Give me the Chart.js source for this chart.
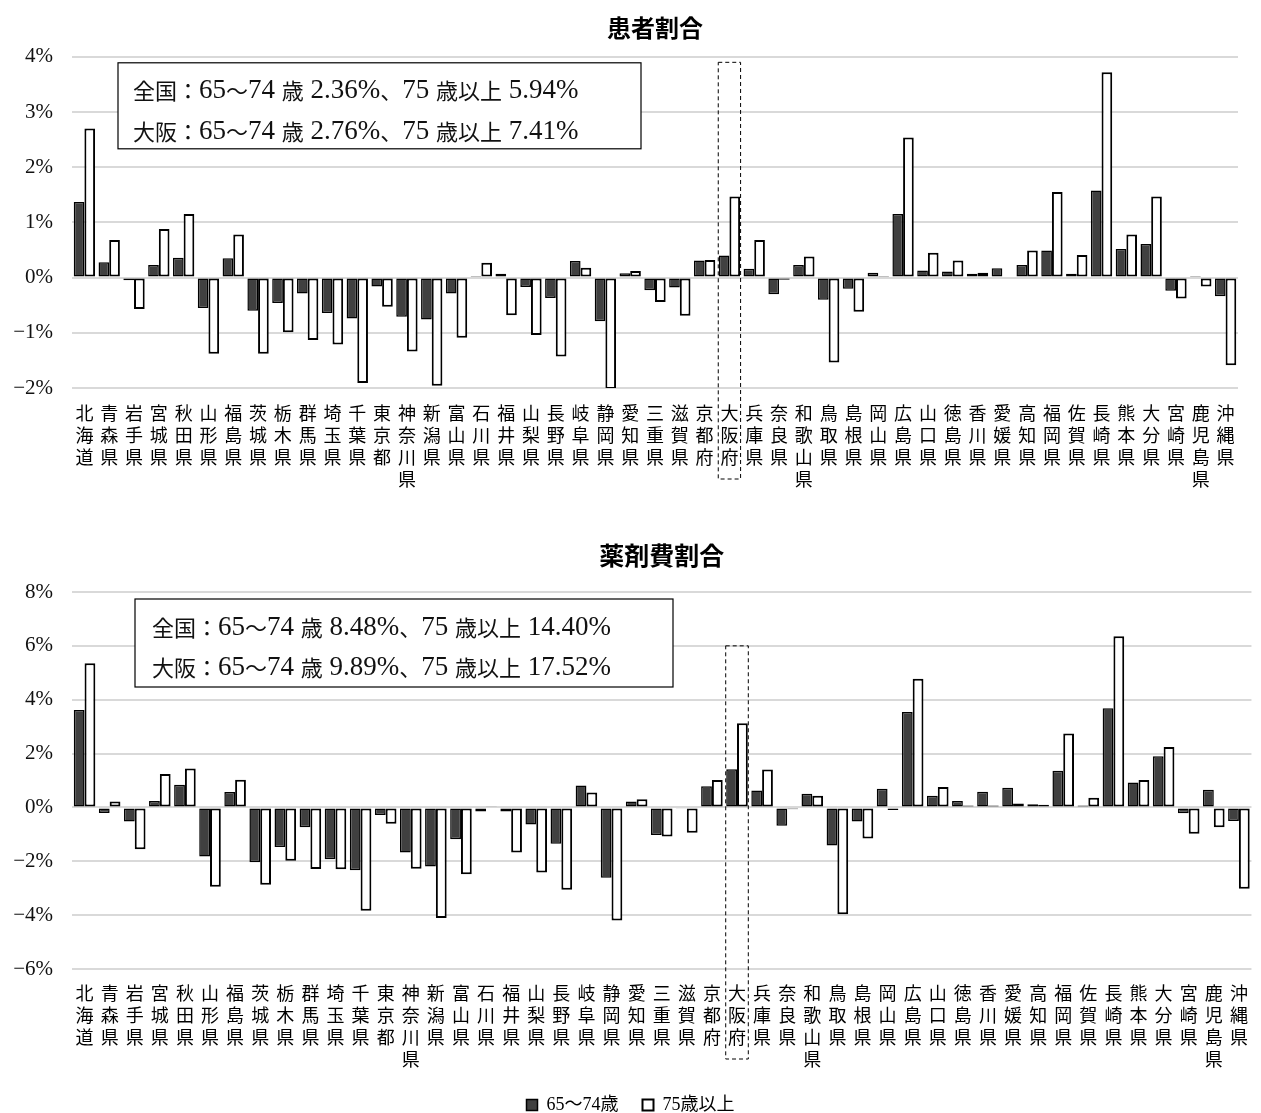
<!DOCTYPE html>
<html>
<head>
<meta charset="utf-8">
<script src="https://cdn.jsdelivr.net/npm/chart.js@4.4.1/dist/chart.umd.min.js"></script>
<style>
html, body { margin: 0; background: #fff; overflow: hidden; }
#wrap { position: relative; width: 1261px; height: 1113px; overflow: hidden; }
canvas { position: absolute; left: 0; }
#patientChart { top: 0; }
#drugChart { top: 530px; }
</style>
</head>
<body>
<div id="wrap">
  <canvas id="patientChart" width="1261" height="500"></canvas>
  <canvas id="drugChart" width="1261" height="594"></canvas>
</div>
<script>
const prefectures = ['北海道', '青森県', '岩手県', '宮城県', '秋田県', '山形県', '福島県', '茨城県', '栃木県', '群馬県',
    '埼玉県', '千葉県', '東京都', '神奈川県', '新潟県', '富山県', '石川県', '福井県', '山梨県', '長野県',
    '岐阜県', '静岡県', '愛知県', '三重県', '滋賀県', '京都府', '大阪府', '兵庫県', '奈良県', '和歌山県',
    '鳥取県', '島根県', '岡山県', '広島県', '山口県', '徳島県', '香川県', '愛媛県', '高知県', '福岡県',
    '佐賀県', '長崎県', '熊本県', '大分県', '宮崎県', '鹿児島県', '沖縄県'];

const seriesNames = ['65～74歳', '75歳以上'];

// 患者割合 (%)
const patientYoung = [1.37, 0.28, -0.05, 0.23, 0.36, -0.55, 0.35, -0.60, -0.46, -0.29,
    -0.64, -0.74, -0.16, -0.71, -0.76, -0.29, 0.01, 0.07, -0.17, -0.37,
    0.30, -0.79, 0.08, -0.23, -0.18, 0.31, 0.40, 0.16, -0.30, 0.23,
    -0.40, -0.20, 0.09, 1.15, 0.13, 0.11, 0.07, 0.17, 0.23, 0.49,
    0.07, 1.58, 0.52, 0.61, -0.24, 0.03, -0.34];
const patientOld = [2.70, 0.68, -0.57, 0.88, 1.15, -1.38, 0.78, -1.38, -0.99, -1.13,
    -1.21, -1.91, -0.53, -1.34, -1.96, -1.09, 0.27, -0.68, -1.04, -1.43,
    0.18, -2.02, 0.12, -0.44, -0.69, 0.32, 1.47, 0.68, -0.04, 0.38,
    -1.54, -0.62, 0.01, 2.54, 0.45, 0.31, 0.09, 0.02, 0.49, 1.55,
    0.41, 3.72, 0.78, 1.47, -0.38, -0.16, -1.59];

// 薬剤費割合 (%)
const drugYoung = [3.62, -0.21, -0.52, 0.24, 0.84, -1.82, 0.57, -2.04, -1.47, -0.74,
    -1.92, -2.33, -0.28, -1.67, -2.19, -1.18, -0.15, -0.15, -0.63, -1.35,
    0.81, -2.61, 0.22, -1.02, -0.05, 0.79, 1.42, 0.63, -0.68, 0.51,
    -1.41, -0.52, 0.69, 3.54, 0.43, 0.24, 0.58, 0.73, 0.12, 1.36,
    0.07, 3.68, 0.93, 1.90, -0.22, 0.66, -0.50];
const drugOld = [5.35, 0.22, -1.55, 1.24, 1.45, -2.95, 1.03, -2.87, -1.98, -2.29,
    -2.30, -3.84, -0.61, -2.28, -4.11, -2.48, 0.04, -1.67, -2.42, -3.06,
    0.55, -4.20, 0.30, -1.08, -0.94, 1.02, 3.13, 1.41, -0.07, 0.43,
    -3.97, -1.15, -0.10, 4.78, 0.76, 0.07, 0.07, 0.15, 0.10, 2.75,
    0.36, 6.36, 1.02, 2.24, -0.98, -0.74, -3.02];

const patientTicks = [-2, 4, 1];   // min, max, step
const drugTicks = [-6, 8, 2];

const patientNotes = ['全国：65～74 歳 2.36%、75 歳以上 5.94%', '大阪：65～74 歳 2.76%、75 歳以上 7.41%'];
const drugNotes = ['全国：65～74 歳 8.48%、75 歳以上 14.40%', '大阪：65～74 歳 9.89%、75 歳以上 17.52%'];

const osakaIndex = prefectures.indexOf('大阪府');
const serif = '"Liberation Serif", "Noto Sans CJK JP", serif';
const gothic = '"Noto Sans CJK JP", sans-serif';

// latin runs in serif, japanese runs a bit smaller in gothic
function drawMixed(ctx, text, x, y) {
    const runs = text.match(/[\x20-\x7e]+|[^\x20-\x7e]+/g);
    runs.forEach(r => {
        ctx.font = /[\x20-\x7e]/.test(r[0]) ? '27px "Liberation Serif"' : '22px ' + gothic;
        ctx.fillText(r, x, y);
        x += ctx.measureText(r).width;
    });
}

// note box and dashed frame round 大阪府
const notePlugin = {
    id: 'notes',
    afterDatasetsDraw(chart, args, opts) {
        const { ctx, chartArea, scales } = chart;
        ctx.save();
        const bx = chartArea.left + opts.boxLeft;
        const by = chartArea.top + opts.boxTop;
        ctx.fillStyle = '#fff';
        ctx.fillRect(bx, by, opts.boxWidth, opts.boxHeight);
        ctx.strokeStyle = '#000';
        ctx.lineWidth = 1.2;
        ctx.strokeRect(bx, by, opts.boxWidth, opts.boxHeight);
        ctx.fillStyle = '#111';
        ctx.textBaseline = 'middle';
        opts.lines.forEach((t, i) => {
            drawMixed(ctx, t, bx + opts.textLeft, by + opts.lineY[i]);
        });

        const cx = scales.x.getPixelForValue(osakaIndex);
        const half = scales.x.width / prefectures.length * 0.45;
        const top = scales.y.getPixelForValue(opts.frameTop);
        const bottom = chartArea.bottom + opts.frameBelow;
        ctx.setLineDash([4, 3]);
        ctx.lineWidth = 1;
        ctx.strokeStyle = '#000';
        ctx.strokeRect(cx - half, top, half * 2, bottom - top);
        ctx.restore();
    }
};

function makeChart(id, title, young, old, ticks, notes, extra) {
    const ctx = document.getElementById(id).getContext('2d');
    return new Chart(ctx, {
        type: 'bar',
        data: {
            labels: prefectures.map(p => p.split('')),
            datasets: [{
                label: seriesNames[0],
                data: young,
                backgroundColor: '#404040',
                borderColor: '#000',
                borderWidth: 1.5,
                borderSkipped: false
            }, {
                label: seriesNames[1],
                data: old,
                backgroundColor: '#fff',
                borderColor: '#000',
                borderWidth: 2,
                borderSkipped: false
            }]
        },
        options: {
            responsive: false,
            animation: false,
            categoryPercentage: 0.86,
            barPercentage: 1,
            layout: { padding: extra.padding },
            plugins: {
                title: {
                    display: true,
                    text: title,
                    color: '#000',
                    fullSize: false,
                    font: { family: gothic, size: extra.titleSize, weight: 'bold' },
                    padding: extra.titlePadding
                },
                legend: {
                    display: extra.legend,
                    position: 'bottom',
                    labels: {
                        color: '#000',
                        boxWidth: 11,
                        boxHeight: 11,
                        padding: 24,
                        font: { family: serif, size: 18 }
                    }
                },
                tooltip: { enabled: false },
                notes: {
                    lines: notes,
                    boxLeft: extra.box[0], boxTop: extra.box[1], boxWidth: extra.box[2], boxHeight: extra.box[3],
                    textLeft: extra.textLeft, lineY: extra.lineY,
                    frameTop: extra.frameTop, frameBelow: extra.frameBelow
                }
            },
            scales: {
                x: {
                    afterFit(scale) { if (extra.xHeight) scale.height = extra.xHeight; },
                    grid: { display: false, drawTicks: false },
                    border: { display: false },
                    ticks: {
                        autoSkip: false,
                        maxRotation: 0,
                        padding: extra.xPad,
                        color: '#000',
                        font: { family: gothic, size: 18, lineHeight: 22 / 18 }
                    }
                },
                y: {
                    min: ticks[0],
                    max: ticks[1],
                    afterFit(scale) { scale.width = 72; },
                    grid: { color: '#d9d9d9', lineWidth: 2, drawTicks: false },
                    border: { display: false },
                    ticks: {
                        stepSize: ticks[2],
                        padding: 19,
                        color: '#111',
                        font: { family: serif, size: 21 },
                        callback: v => (v < 0 ? '−' + Math.abs(v) : v) + '%'
                    }
                }
            }
        },
        plugins: [notePlugin]
    });
}

makeChart('patientChart', '患者割合', patientYoung, patientOld, patientTicks, patientNotes, {
    padding: { left: 0, right: 23, top: 0, bottom: 0 },
    titleSize: 24,
    titlePadding: { top: 13, bottom: 15 },
    legend: false,
    xPad: 14,
    xHeight: 112,
    box: [46, 6, 523, 86],
    textLeft: 15,
    lineY: [28, 69],
    frameTop: 3.9,
    frameBelow: 91
});

makeChart('drugChart', '薬剤費割合', drugYoung, drugOld, drugTicks, drugNotes, {
    padding: { left: 0, right: 0, top: 0, bottom: 0 },
    titleSize: 25,
    titlePadding: { top: 10, bottom: 22 },
    legend: true,
    xPad: 13,
    xHeight: 103,
    box: [63, 7, 538, 88],
    textLeft: 17,
    lineY: [29, 69],
    frameTop: 6,
    frameBelow: 90
});
</script>
</body>
</html>
